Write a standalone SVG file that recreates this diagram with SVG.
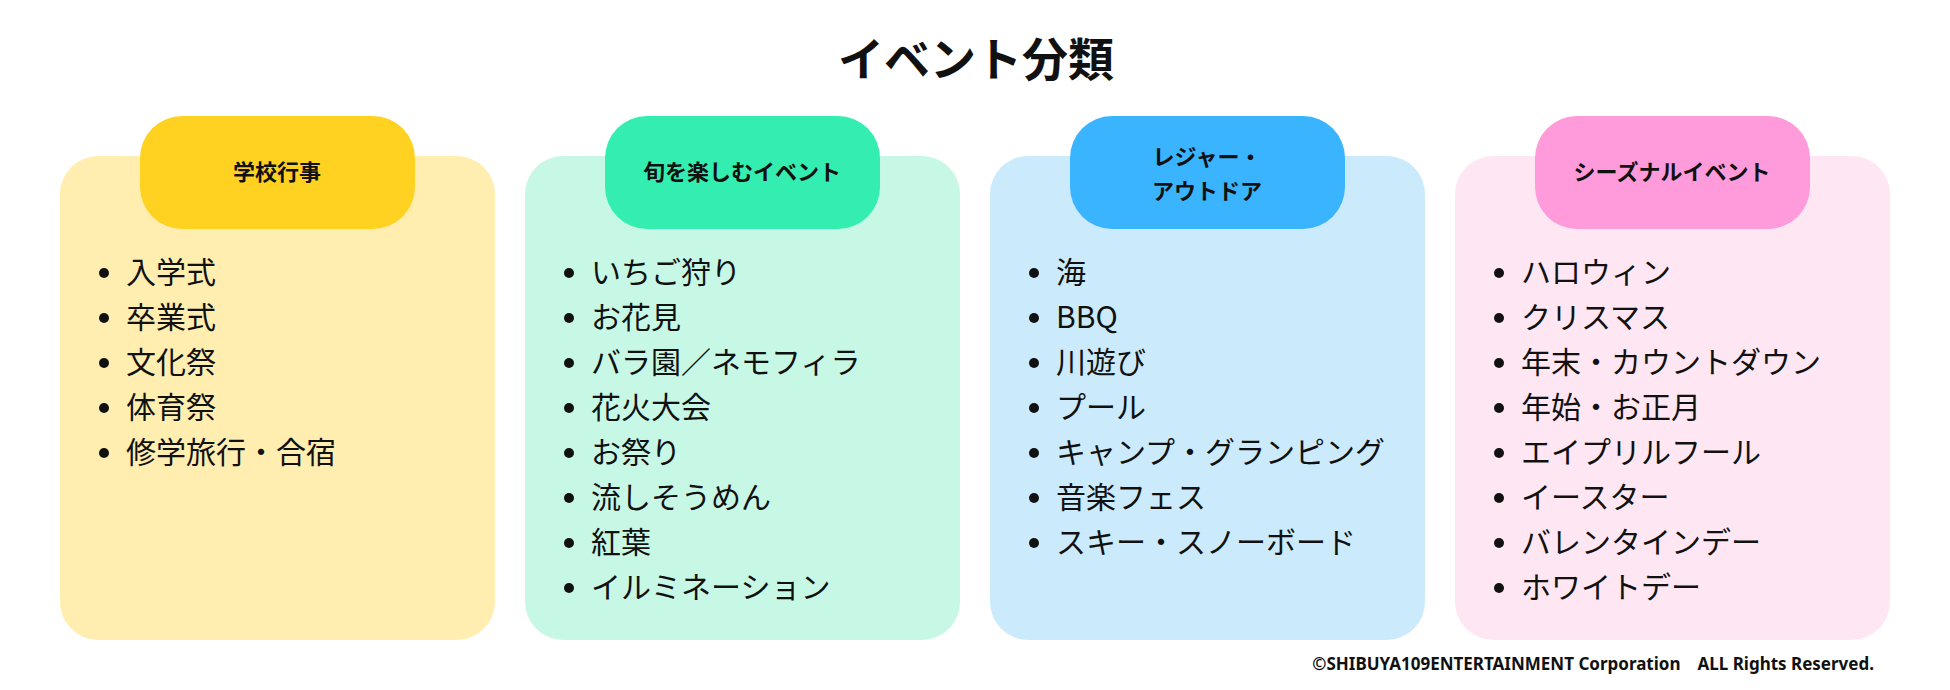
<svg xmlns="http://www.w3.org/2000/svg" width="1950" height="690" viewBox="0 0 1950 690">
<style>
text{font-family:"Noto Sans CJK JP","Noto Sans",sans-serif;fill:#111}
.t{font-size:46px;font-weight:700}
.h{font-size:22px;font-weight:700}
.i{font-size:30px}
.c{font-size:17px;font-weight:700;font-family:"Noto Sans","Noto Sans CJK JP",sans-serif}
</style>
<rect width="1950" height="690" fill="#fff"/>
<text class="t" x="976" y="76" text-anchor="middle">イベント分類</text>
<g id="school">
<rect x="60" y="156" width="435" height="484" rx="38" fill="#FFEEB0"/>
<rect x="140" y="116" width="275" height="113" rx="42" fill="#FFD222"/>
<text class="h" x="277" y="180" text-anchor="middle">学校行事</text>
<g fill="#111"><circle cx="104" cy="273" r="5"/><circle cx="104" cy="318" r="5"/><circle cx="104" cy="363" r="5"/><circle cx="104" cy="408" r="5"/><circle cx="104" cy="453" r="5"/></g>
<text class="i" x="126" y="283">入学式</text><text class="i" x="126" y="328">卒業式</text><text class="i" x="126" y="373">文化祭</text><text class="i" x="126" y="418">体育祭</text><text class="i" x="126" y="463">修学旅行・合宿</text>
</g>
<g id="seasonal-fun">
<rect x="525" y="156" width="435" height="484" rx="38" fill="#C7F8E6"/>
<rect x="605" y="116" width="275" height="113" rx="42" fill="#33EEB0"/>
<text class="h" x="742" y="180" text-anchor="middle">旬を楽しむイベント</text>
<g fill="#111"><circle cx="569" cy="273" r="5"/><circle cx="569" cy="318" r="5"/><circle cx="569" cy="363" r="5"/><circle cx="569" cy="408" r="5"/><circle cx="569" cy="453" r="5"/><circle cx="569" cy="498" r="5"/><circle cx="569" cy="543" r="5"/><circle cx="569" cy="588" r="5"/></g>
<text class="i" x="591" y="283">いちご狩り</text><text class="i" x="591" y="328">お花見</text><text class="i" x="591" y="373">バラ園／ネモフィラ</text><text class="i" x="591" y="418">花火大会</text><text class="i" x="591" y="463">お祭り</text><text class="i" x="591" y="508">流しそうめん</text><text class="i" x="591" y="553">紅葉</text><text class="i" x="591" y="598">イルミネーション</text>
</g>
<g id="leisure">
<rect x="990" y="156" width="435" height="484" rx="38" fill="#CBEBFD"/>
<rect x="1070" y="116" width="275" height="113" rx="42" fill="#3BB4FF"/>
<text class="h" x="1207" y="165" text-anchor="middle">レジャー・</text>
<text class="h" x="1207" y="199" text-anchor="middle">アウトドア</text>
<g fill="#111"><circle cx="1034" cy="273" r="5"/><circle cx="1034" cy="318" r="5"/><circle cx="1034" cy="363" r="5"/><circle cx="1034" cy="408" r="5"/><circle cx="1034" cy="453" r="5"/><circle cx="1034" cy="498" r="5"/><circle cx="1034" cy="543" r="5"/></g>
<text class="i" x="1056" y="283">海</text><text class="i" x="1056" y="328">BBQ</text><text class="i" x="1056" y="373">川遊び</text><text class="i" x="1056" y="418">プール</text><text class="i" x="1056" y="463">キャンプ・グランピング</text><text class="i" x="1056" y="508">音楽フェス</text><text class="i" x="1056" y="553">スキー・スノーボード</text>
</g>
<g id="seasonal">
<rect x="1455" y="156" width="435" height="484" rx="38" fill="#FFE6F3"/>
<rect x="1535" y="116" width="275" height="113" rx="42" fill="#FF9ADB"/>
<text class="h" x="1672" y="180" text-anchor="middle">シーズナルイベント</text>
<g fill="#111"><circle cx="1499" cy="273" r="5"/><circle cx="1499" cy="318" r="5"/><circle cx="1499" cy="363" r="5"/><circle cx="1499" cy="408" r="5"/><circle cx="1499" cy="453" r="5"/><circle cx="1499" cy="498" r="5"/><circle cx="1499" cy="543" r="5"/><circle cx="1499" cy="588" r="5"/></g>
<text class="i" x="1521" y="283">ハロウィン</text><text class="i" x="1521" y="328">クリスマス</text><text class="i" x="1521" y="373">年末・カウントダウン</text><text class="i" x="1521" y="418">年始・お正月</text><text class="i" x="1521" y="463">エイプリルフール</text><text class="i" x="1521" y="508">イースター</text><text class="i" x="1521" y="553">バレンタインデー</text><text class="i" x="1521" y="598">ホワイトデー</text>
</g>
<g id="connectors"/>
<text class="c" x="1874" y="670" text-anchor="end" xml:space="preserve">©SHIBUYA109ENTERTAINMENT Corporation　ALL Rights Reserved.</text>
</svg>
